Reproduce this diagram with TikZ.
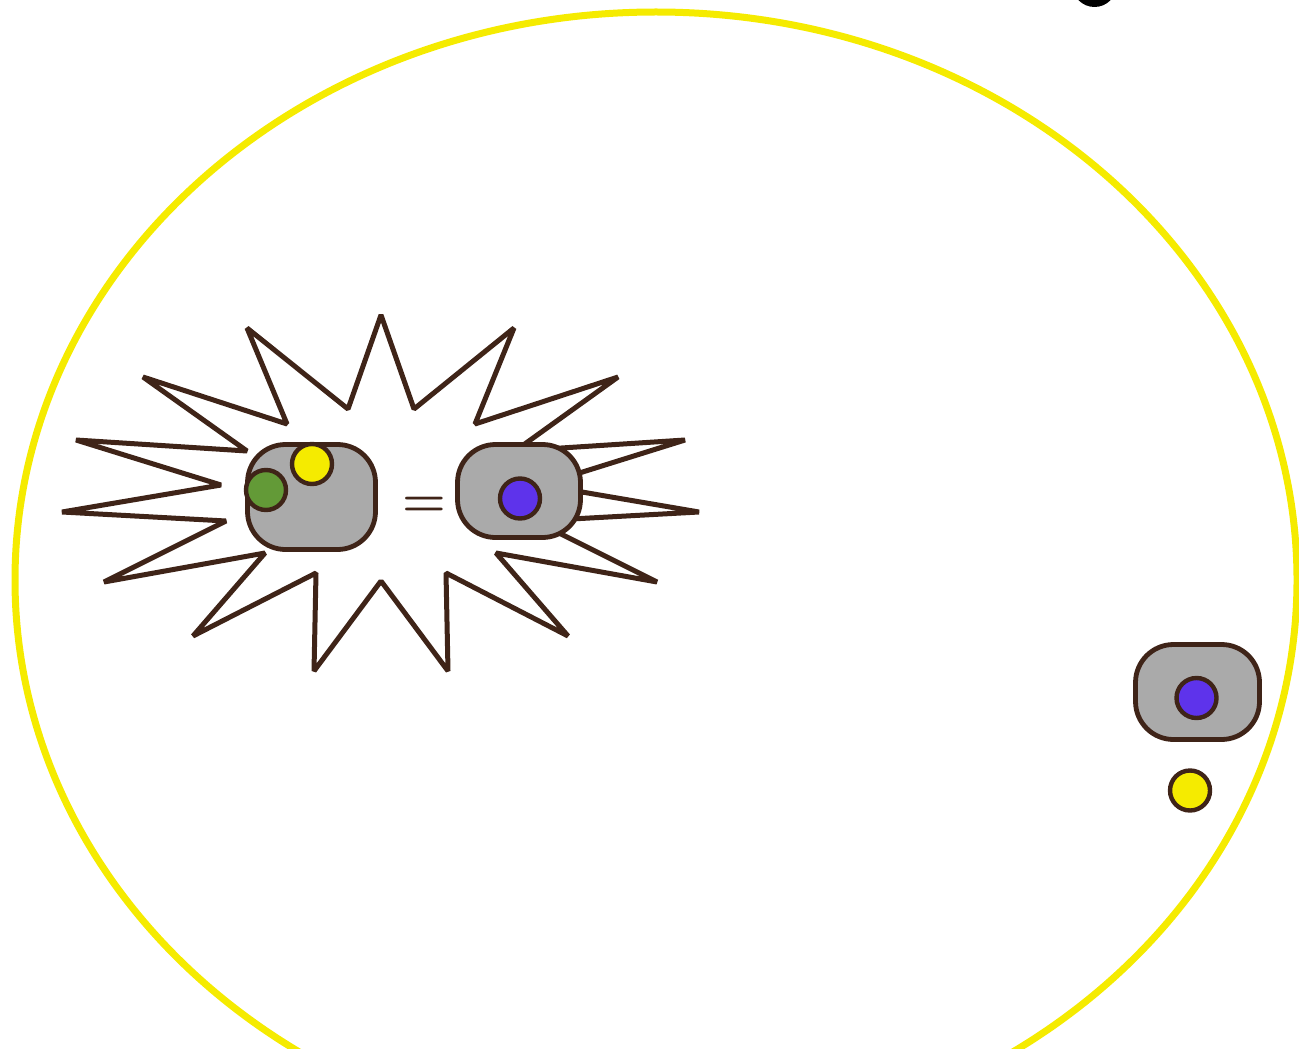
\documentclass[tikz,border=0pt]{standalone}
\usetikzlibrary{shapes.misc}
\definecolor{brn}{HTML}{3F2418}
\definecolor{ylw}{HTML}{F5EB00}
\definecolor{grn}{HTML}{639A37}
\definecolor{blu}{HTML}{5E33EB}
\definecolor{gry}{HTML}{AAAAAA}
\tikzset{
  starline/.style={draw=brn, fill=white, line width=2.5pt, line join=bevel},
  cellbox/.style={draw=brn, fill=gry, line width=2.4pt, rounded corners=19pt, inner sep=0pt},
  dot/.style={circle, draw=brn, line width=2.2pt, minimum size=20pt, inner sep=0pt},
  ring/.style={draw=ylw, line width=3.5pt},
}
\begin{document}
\begin{tikzpicture}[x=0.5pt, y=-0.5pt]
\useasboundingbox (0,0) rectangle (1299,1048);
% big yellow ellipse
\draw[ring] (656,580) ellipse [x radius=641, y radius=568];
% partial glyph at top edge
\fill[black] (1094.5,-16) ellipse [x radius=22.5, y radius=23];
% starburst
\draw[starline] (381,315) -- (414,409) -- (514,328) -- (475,424) -- (618,377)
  -- (515,451) -- (685,440) -- (541,485) -- (699,512) -- (535,521)
  -- (657,582) -- (496,553) -- (568,636) -- (446,573) -- (448,671)
  -- (381,581) -- (314,671) -- (316,573) -- (193,636) -- (265,553)
  -- (104,582) -- (226,521) -- (62,512) -- (221,485) -- (76,440)
  -- (247,451) -- (143,377) -- (287,424) -- (247,328) -- (348,409) -- cycle;
% left cell
\node[cellbox, minimum width=64pt, minimum height=52.5pt] (cellA) at (311.5,497) {};
\node[dot, fill=grn] (greenA) at (266,490) {};
\node[dot, fill=ylw] (yellowA) at (312,464) {};
% equals sign
\node[text=brn, font=\fontsize{25}{25}\selectfont\bfseries, inner sep=0pt] (eq) at (424,507) {=};
% right cell
\node[cellbox, minimum width=61.5pt, minimum height=46.5pt] (cellB) at (519,491) {};
\node[dot, fill=blu] (blueB) at (520,498.5) {};
% far right cell
\node[cellbox, minimum width=62pt, minimum height=47.5pt] (cellC) at (1197.5,692) {};
\node[dot, fill=blu] (blueC) at (1196.5,698) {};
\node[dot, fill=ylw] (yellowC) at (1190,790.5) {};
\end{tikzpicture}
\end{document}
